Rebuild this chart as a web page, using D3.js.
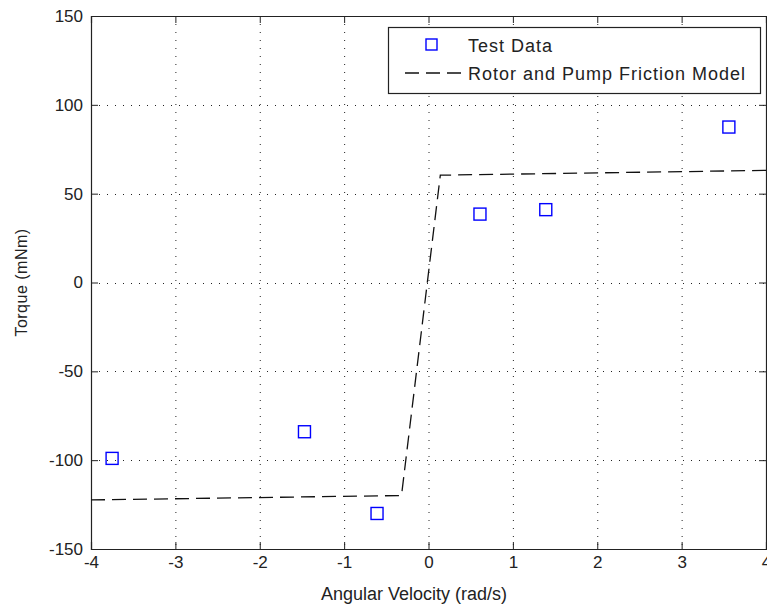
<!doctype html>
<html lang="en">
<head>
    <meta charset="UTF-8">
    <title>Torque vs Angular Velocity</title>
    <script src="https://d3js.org/d3.v7.min.js"></script>
    <style>
        body { margin: 0; background: #fff; }
        svg { display: block; font-family: "Liberation Sans", Arial, sans-serif; }
        .grid line { stroke: #222; stroke-width: 1; stroke-dasharray: 1,7; }
    </style>
</head>
<body>
    <svg width="767" height="608"></svg>
    <script>
        // measured test points
        const testVel = [-3.75, -1.47, -0.61, 0.61, 1.39, 3.56];
        const testTorque = [-99, -84, -130, 38.5, 41, 87.5];

        // friction model curve
        const modelVel = [-4, -0.32, 0.14, 4];
        const modelTorque = [-122.4, -119.9, 60.4, 63.1];

        const xTicks = [-4, -3, -2, -1, 0, 1, 2, 3, 4];
        const yTicks = [-150, -100, -50, 0, 50, 100, 150];

        const svg = d3.select("svg");
        const pL = 91, pR = 766, pT = 16, pB = 549;

        const x = d3.scaleLinear().domain([-4, 4]).range([pL, pR]);
        const y = d3.scaleLinear().domain([-150, 150]).range([pB, pT]);

        // grid
        const grid = svg.append("g").attr("class", "grid");
        grid.selectAll(".gx").data(xTicks.slice(1, -1)).enter().append("line")
            .attr("x1", d => x(d) + 0.5).attr("x2", d => x(d) + 0.5)
            .attr("y1", pT).attr("y2", pB);
        grid.selectAll(".gy").data(yTicks.slice(1, -1)).enter().append("line")
            .attr("y1", d => Math.round(y(d)) + 0.5).attr("y2", d => Math.round(y(d)) + 0.5)
            .attr("x1", pL).attr("x2", pR);

        // axes (ticks inward, on all four sides)
        const tickLen = 7;
        const fmt = d => String(d);
        const xBottom = svg.append("g").attr("transform", `translate(0,${pB})`)
            .call(d3.axisBottom(x).tickValues(xTicks).tickSize(-tickLen).tickPadding(7).tickFormat(fmt));
        const xTop = svg.append("g").attr("transform", `translate(0,${pT})`)
            .call(d3.axisTop(x).tickValues(xTicks).tickSize(-tickLen).tickFormat(""));
        const yLeft = svg.append("g").attr("transform", `translate(${pL},0)`)
            .call(d3.axisLeft(y).tickValues(yTicks).tickSize(-tickLen).tickPadding(8).tickFormat(fmt));
        const yRight = svg.append("g").attr("transform", `translate(${pR},0)`)
            .call(d3.axisRight(y).tickValues(yTicks).tickSize(-tickLen).tickFormat(""));

        [xBottom, xTop, yLeft, yRight].forEach(g => {
            g.select(".domain").attr("stroke", "#222").attr("stroke-width", 1.2);
            g.selectAll(".tick line").attr("stroke", "#222");
            g.selectAll("text").attr("fill", "#222").style("font-size", "17px");
        });
        xBottom.selectAll("text").attr("dy", "0.71em");

        // axis labels
        svg.append("text")
            .attr("x", 414).attr("y", 600)
            .attr("text-anchor", "middle").attr("fill", "#222").style("font-size", "18px")
            .text("Angular Velocity (rad/s)");
        svg.append("text")
            .attr("transform", `translate(27,${(pT + pB) / 2}) rotate(-90)`)
            .attr("text-anchor", "middle").attr("fill", "#222").style("font-size", "16px")
            .style("letter-spacing", "0.5px")
            .text("Torque (mNm)");

        // model line
        const modelData = modelVel.map((v, i) => [v, modelTorque[i]]);
        svg.append("path")
            .datum(modelData)
            .attr("fill", "none").attr("stroke", "#111").attr("stroke-width", 1.3)
            .attr("stroke-dasharray", "14,7")
            .attr("d", d3.line().x(d => x(d[0])).y(d => y(d[1])));

        // test data squares
        const sq = 12;
        const testData = testVel.map((v, i) => [v, testTorque[i]]);
        svg.selectAll(".pt").data(testData).enter().append("rect")
            .attr("x", d => x(d[0]) - sq / 2).attr("y", d => y(d[1]) - sq / 2)
            .attr("width", sq).attr("height", sq)
            .attr("fill", "none").attr("stroke", "#0000ff").attr("stroke-width", 1.4);

        // legend
        const lg = svg.append("g");
        lg.append("rect").attr("x", 388.5).attr("y", 27.5).attr("width", 372).attr("height", 66)
            .attr("fill", "#fff").attr("stroke", "#222").attr("stroke-width", 1.2);
        lg.append("rect").attr("x", 426).attr("y", 39).attr("width", 11).attr("height", 11)
            .attr("fill", "none").attr("stroke", "#0000ff").attr("stroke-width", 1.4);
        lg.append("line").attr("x1", 405).attr("x2", 463).attr("y1", 73).attr("y2", 73)
            .attr("stroke", "#111").attr("stroke-width", 1.3).attr("stroke-dasharray", "14,7");
        lg.append("text").attr("x", 468).attr("y", 52).attr("fill", "#222").style("font-size", "18px")
            .style("letter-spacing", "1px").text("Test Data");
        lg.append("text").attr("x", 468).attr("y", 80).attr("fill", "#222").style("font-size", "18px")
            .style("letter-spacing", "1px").text("Rotor and Pump Friction Model");
    </script>
</body>
</html>
